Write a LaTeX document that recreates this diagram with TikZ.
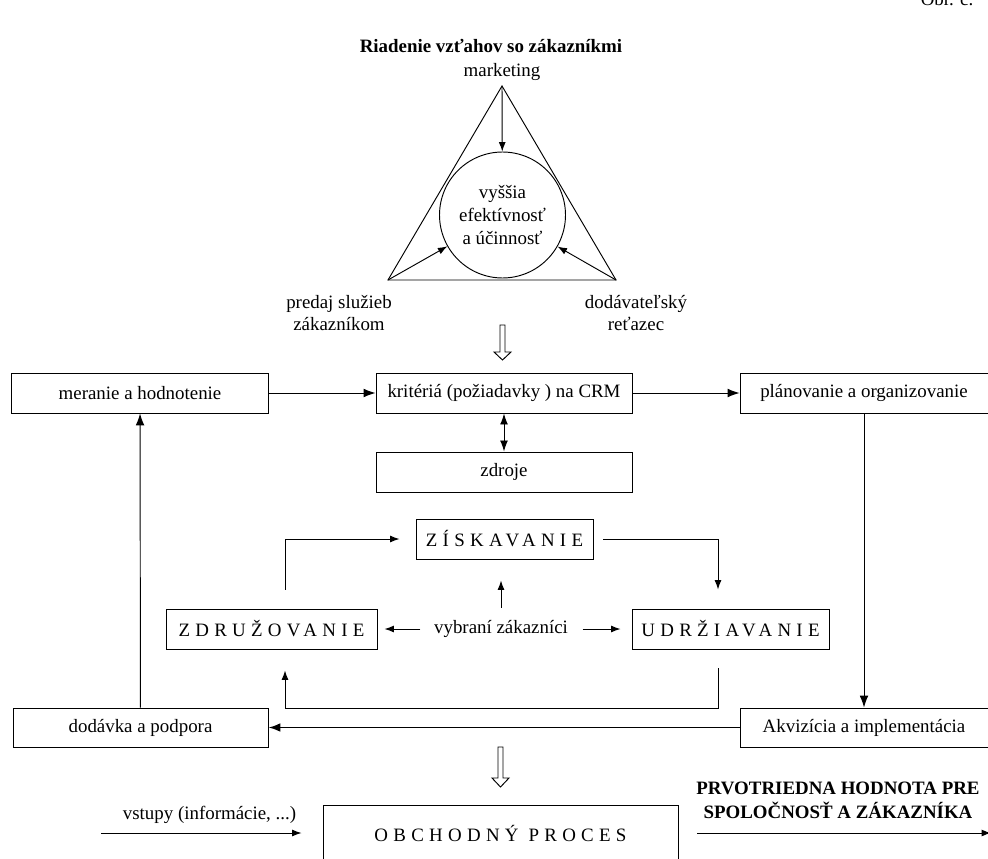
\documentclass[tikz,border=0pt,12pt]{standalone}
\usepackage{fontspec}
\setmainfont{Liberation Serif}
\usepackage{tikz}
\usetikzlibrary{calc}
\usetikzlibrary{arrows.meta}
\usetikzlibrary{positioning}

\tikzset{
    box/.style={draw, rectangle, minimum height=25.4pt, inner sep=2pt},
    spaced/.style={font=\addfontfeature{LetterSpace=28}},
    flow/.style={-{Latex[length=7.5pt, width=5.5pt]}},
    smallflow/.style={-{Latex[length=6pt, width=4.4pt]}},
    twoway/.style={{Latex[length=7pt, width=5pt]}-{Latex[length=7pt, width=5pt]}},
}

\begin{document}
\begin{tikzpicture}[x=0.635pt, y=-0.635pt, line width=0.6pt]
            \useasboundingbox (0,0) rectangle (988,859);
            % Title
            \node[anchor=base east]               (obr)   at (980,  6) {Obr. č.};
            \node[font=\bfseries]                 (title) at (491, 46) {Riadenie vzťahov so zákazníkmi};
            % Triangle
            \coordinate (mkt)  at (502.0, 86);
            \coordinate (sale) at (388.0,280);
            \coordinate (supp) at (616.0,280);
            \draw (mkt) -- (sale) -- (supp) -- cycle;
            \node[draw, circle, minimum size=80pt, inner sep=0pt, align=center]
                                                  (goal)  at (502.5,215) {vyššia\\efektívnosť\\a účinnosť};
            \draw[smallflow] (mkt)  -- (goal);
            \draw[smallflow] (sale) -- (goal);
            \draw[smallflow] (supp) -- (goal);
            \node                                 (mktlbl)  at (502, 72) {marketing};
            \node[align=center]                   (salelbl) at (339,313) {predaj služieb\\zákazníkom};
            \node[align=center]                   (supplbl) at (636,313) {dodávateľský\\reťazec};
            % Hollow arrow down
            \draw (500,325) -- (505,325) -- (505,352) -- (511,352) -- (502.5,360) -- (494,352) -- (500,352) -- cycle;
            % Top row
            \node[box, minimum width=162.6pt]     (meranie)    at (140.0,393) {meranie a hodnotenie};
            \node[box, minimum width=162.6pt]     (kriteria)   at (504.0,393) {kritériá (požiadavky ) na CRM};
            \node[box, minimum width=157.5pt]     (planovanie) at (864.0,393) {plánovanie a organizovanie};
            \node[box, minimum width=162.6pt]     (zdroje)     at (504.0,472) {zdroje};
            % CRM cycle
            \node[box, spaced, minimum width=112.4pt] (ziskavanie)  at (504.5,539) {ZÍSKAVANIE};
            \node[box, spaced, minimum width=134.0pt] (zdruzovanie) at (271.5,629) {ZDRUŽOVANIE};
            \node[box, spaced, minimum width=125.1pt] (udrziavanie) at (730.5,629) {UDRŽIAVANIE};
            \node                                     (vybrani)     at (501.0,629) {vybraní zákazníci};
            % Bottom row
            \node[box, minimum width=161.9pt, minimum height=24.8pt] (dodavka)   at (140.5,727.5) {dodávka a podpora};
            \node[box, minimum width=157.5pt, minimum height=24.8pt] (akvizicia) at (864.0,727.5) {Akvizícia a implementácia};
            % Connectors
            \draw[flow]                   (meranie)    -- (kriteria);
            \draw[flow]                   (kriteria)   -- (planovanie);
            \draw[twoway]                 (kriteria)   -- (zdroje);
            \draw[flow]                   (planovanie) -- (akvizicia);
            \draw[flow, line width=1.2pt] (akvizicia)  -- (dodavka);
            \draw[flow]                   (dodavka)    -- (meranie);
            % Cycle arrows
            \draw[smallflow] ($(vybrani.west)+(-7,0)$)  -- ($(zdruzovanie.east)+(7,0)$);
            \draw[smallflow] ($(vybrani.east)+(8,0)$)   -- ($(udrziavanie.west)+(-11,0)$);
            \draw[smallflow] ($(vybrani.north)+(0,-6)$) -- ($(vybrani.north |- ziskavanie.south)+(0,21)$);
            \draw[smallflow] ($(zdruzovanie.north)+(13.5,-19)$) |- ($(ziskavanie.west)+(-16,0)$);
            \draw[smallflow] ($(ziskavanie.east)+(10,0)$)       -| ($(udrziavanie.north)+(-12.5,-19)$);
            \draw[smallflow] ($(udrziavanie.south)+(-12.5,19)$) -- ++(0,40) -| ($(zdruzovanie.south)+(13.5,21)$);
            % Hollow arrow down
            \draw (498,747) -- (503,747) -- (503,778) -- (509,778) -- (500.5,787) -- (492,778) -- (498,778) -- cycle;
            % Business process
            \node[box, spaced, minimum width=225.4pt, minimum height=35.6pt] (obchodny) at (500.5,833) {OBCHODNÝ PROCES};
            \coordinate (in)  at (101,833);
            \coordinate (out) at (991,833);
            \draw[smallflow] (in) -- ($(obchodny.west)+(-21,0)$);
            \node                                 (inlbl)  at (209.5,815) {vstupy (informácie, ...)};
            \draw[smallflow] ($(obchodny.east)+(19,0)$) -- (out);
            \node[font=\bfseries, align=center]   (outlbl) at (838,800) {PRVOTRIEDNA HODNOTA PRE\\[0.7pt]SPOLOČNOSŤ A ZÁKAZNÍKA};
        \end{tikzpicture}
\end{document}
